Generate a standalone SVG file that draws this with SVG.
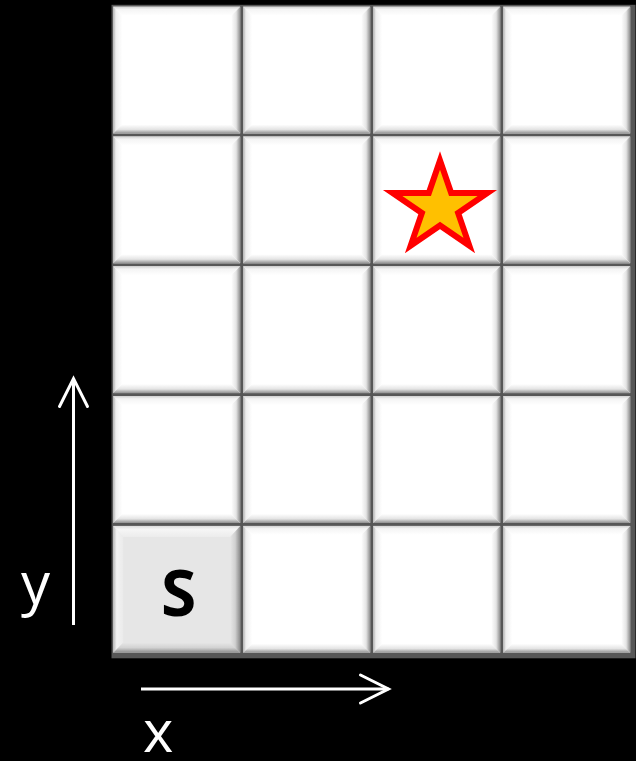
<svg xmlns="http://www.w3.org/2000/svg" xmlns:xlink="http://www.w3.org/1999/xlink" width="636" height="761" viewBox="0 0 636 761">
<style>
.lbl{font-family:"Open Sans","Noto Sans","DejaVu Sans",sans-serif;fill:#fff;font-size:58px}
.s{font-family:"Open Sans","Noto Sans","DejaVu Sans",sans-serif;font-weight:bold;font-size:64px;fill:#000}
.ax{stroke:#fff;stroke-width:3;fill:none}
</style>
<defs>
<linearGradient id="gT" x1="0" y1="0" x2="0" y2="1"><stop offset="0" stop-color="#d2d2d2"/><stop offset="0.3" stop-color="#f4f4f4"/><stop offset="1" stop-color="#ffffff"/></linearGradient>
<linearGradient id="gL" x1="0" y1="0" x2="1" y2="0"><stop offset="0" stop-color="#b0b0b0"/><stop offset="0.3" stop-color="#eeeeee"/><stop offset="1" stop-color="#ffffff"/></linearGradient>
<linearGradient id="gR" x1="0" y1="0" x2="1" y2="0"><stop offset="0" stop-color="#ffffff"/><stop offset="0.55" stop-color="#e4e4e4"/><stop offset="1" stop-color="#8e8e8e"/></linearGradient>
<linearGradient id="gB" x1="0" y1="0" x2="0" y2="1"><stop offset="0" stop-color="#ffffff"/><stop offset="0.55" stop-color="#e4e4e4"/><stop offset="1" stop-color="#909090"/></linearGradient>
<linearGradient id="sT" x1="0" y1="0" x2="0" y2="1"><stop offset="0" stop-color="#dcdcdc"/><stop offset="0.3" stop-color="#f6f6f6"/><stop offset="1" stop-color="#ececec"/></linearGradient>
<linearGradient id="sL" x1="0" y1="0" x2="1" y2="0"><stop offset="0" stop-color="#b8b8b8"/><stop offset="0.35" stop-color="#f2f2f2"/><stop offset="1" stop-color="#ebebeb"/></linearGradient>
<linearGradient id="sR" x1="0" y1="0" x2="1" y2="0"><stop offset="0" stop-color="#e6e6e6"/><stop offset="0.5" stop-color="#d0d0d0"/><stop offset="1" stop-color="#8a8a8a"/></linearGradient>
<linearGradient id="sB" x1="0" y1="0" x2="0" y2="1"><stop offset="0" stop-color="#e6e6e6"/><stop offset="0.5" stop-color="#d2d2d2"/><stop offset="1" stop-color="#8c8c8c"/></linearGradient>
<g id="cell">
<rect x="0" y="0" width="127" height="126.8" fill="#ffffff"/>
<polygon points="0,0 127,0 118,9 9,9" fill="url(#gT)"/>
<polygon points="0,0 9,9 9,117.8 0,126.8" fill="url(#gL)"/>
<polygon points="127,0 127,126.8 118,117.8 118,9" fill="url(#gR)"/>
<polygon points="0,126.8 127,126.8 118,117.8 9,117.8" fill="url(#gB)"/>
</g>
<g id="cellS">
<rect x="0" y="0" width="127" height="126.8" fill="#e6e6e6"/>
<polygon points="0,0 127,0 117,11 10,11" fill="url(#sT)"/>
<polygon points="0,0 10,11 10,116.8 0,126.8" fill="url(#sL)"/>
<polygon points="127,0 127,126.8 117,116.8 117,11" fill="url(#sR)"/>
<polygon points="0,126.8 127,126.8 117,116.8 10,116.8" fill="url(#sB)"/>
</g>
<marker id="arr" markerUnits="userSpaceOnUse" orient="auto" overflow="visible" refX="0" refY="0" markerWidth="40" markerHeight="40">
<path d="M-28,-14 L0,0 L-28,14" fill="none" stroke="#fff" stroke-width="3" stroke-linecap="round"/>
</marker>
</defs>
<rect width="636" height="761" fill="#000"/>
<rect id="grid-frame" x="111.5" y="4.8" width="524" height="653.5" fill="#575757"/>
<g id="cells">
<g id="c0r0"><use xlink:href="#cell" transform="translate(113.2,6.7)"/></g>
<g id="c1r0"><use xlink:href="#cell" transform="translate(243.2,6.7)"/></g>
<g id="c2r0"><use xlink:href="#cell" transform="translate(373.2,6.7)"/></g>
<g id="c3r0"><use xlink:href="#cell" transform="translate(503.2,6.7)"/></g>
<g id="c0r1"><use xlink:href="#cell" transform="translate(113.2,136.5)"/></g>
<g id="c1r1"><use xlink:href="#cell" transform="translate(243.2,136.5)"/></g>
<g id="c2r1"><use xlink:href="#cell" transform="translate(373.2,136.5)"/></g>
<g id="c3r1"><use xlink:href="#cell" transform="translate(503.2,136.5)"/></g>
<g id="c0r2"><use xlink:href="#cell" transform="translate(113.2,266.3)"/></g>
<g id="c1r2"><use xlink:href="#cell" transform="translate(243.2,266.3)"/></g>
<g id="c2r2"><use xlink:href="#cell" transform="translate(373.2,266.3)"/></g>
<g id="c3r2"><use xlink:href="#cell" transform="translate(503.2,266.3)"/></g>
<g id="c0r3"><use xlink:href="#cell" transform="translate(113.2,396.1)"/></g>
<g id="c1r3"><use xlink:href="#cell" transform="translate(243.2,396.1)"/></g>
<g id="c2r3"><use xlink:href="#cell" transform="translate(373.2,396.1)"/></g>
<g id="c3r3"><use xlink:href="#cell" transform="translate(503.2,396.1)"/></g>
<g id="start"><use xlink:href="#cellS" transform="translate(113.2,525.9)"/><text class="s" x="178.5" y="616" text-anchor="middle">S</text></g>
<g id="c1r4"><use xlink:href="#cell" transform="translate(243.2,525.9)"/></g>
<g id="c2r4"><use xlink:href="#cell" transform="translate(373.2,525.9)"/></g>
<g id="c3r4"><use xlink:href="#cell" transform="translate(503.2,525.9)"/></g>
</g>
<g id="goal">
<polygon points="440,160.5 451.18,192.98 487.38,192.98 458.1,213.05 469.29,245.52 440,225.45 410.71,245.52 421.9,213.05 392.62,192.98 428.82,192.98" fill="#ffc000" stroke="#ff0000" stroke-width="6" stroke-linejoin="miter" stroke-miterlimit="10"/>
</g>
<g id="connectors">
<line class="ax" x1="73.5" y1="625" x2="73.5" y2="378.5" marker-end="url(#arr)"/>
<line class="ax" x1="141" y1="689" x2="388.5" y2="689" marker-end="url(#arr)"/>
</g>
<g id="axis-labels">
<text class="lbl" x="21" y="604">y</text>
<text class="lbl" x="143" y="752">x</text>
</g>
</svg>
